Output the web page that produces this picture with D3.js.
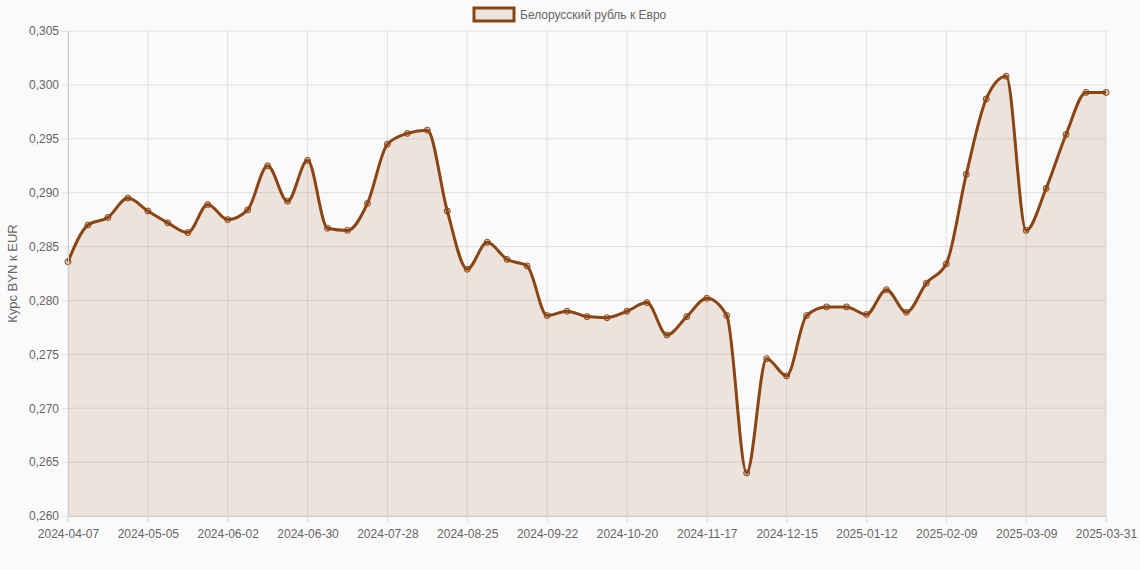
<!DOCTYPE html>
<html><head><meta charset="utf-8">
<script src="https://cdn.jsdelivr.net/npm/d3@7"></script>
<style>body{margin:0;background:#fafafa;font-family:"Liberation Sans",Arial,sans-serif}</style>
</head><body><svg id="c" width="1140" height="570"></svg>
<script>
const start = new Date(Date.UTC(2024,3,7));
const dates = [];
for (let i=0;i<52;i++){const d=new Date(start.getTime()+i*7*864e5);dates.push(d.toISOString().slice(0,10));}
dates.push("2025-03-31");
const values = [0.2836,0.2870,0.2877,0.2895,0.2883,0.2872,0.2863,0.2889,0.2875,0.2884,
0.2925,0.2892,0.2930,0.2867,0.2865,0.2890,0.2945,0.2955,0.2958,0.2883,
0.2829,0.2854,0.2838,0.2832,0.2786,0.2790,0.2785,0.2784,0.2790,0.2798,
0.2768,0.2785,0.2802,0.2786,0.2640,0.2746,0.2730,0.2786,0.2794,0.2794,
0.2787,0.2810,0.2789,0.2816,0.2834,0.2917,0.2987,0.3008,0.2865,0.2904,
0.2954,0.2993,0.2993];
const yTicks = [0.260,0.265,0.270,0.275,0.280,0.285,0.290,0.295,0.300,0.305];
const seriesName = "Белорусский рубль к Евро";
const yTitle = "Курс BYN к EUR";

const svg=d3.select("#c");
const L=68,R=1106,T=31,B=516;
const x=d3.scalePoint().domain(dates).range([L,R]);
const y=d3.scaleLinear().domain([0.26,0.305]).range([B,T]);
const col="#8B4513";
const fmt=v=>d3.format(".3f")(v).replace(".",",");
const shown=dates.filter((d,i)=>i%4===0||i===dates.length-1);

const g=svg.append("g");
g.selectAll(".hy").data(yTicks).join("line").attr("x1",L).attr("x2",R).attr("y1",d=>y(d)).attr("y2",d=>y(d)).attr("stroke","#e0e0e0");
g.selectAll(".vx").data(shown).join("line").attr("x1",d=>x(d)).attr("x2",d=>x(d)).attr("y1",T).attr("y2",B+6).attr("stroke","#e0e0e0");

svg.append("path").datum(values).attr("fill","rgba(139,69,19,0.12)")
 .attr("d",d3.area().x((d,i)=>x(dates[i])).y0(B).y1(d=>y(d)).curve(d3.curveMonotoneX));
svg.append("path").datum(values).attr("fill","none").attr("stroke",col).attr("stroke-width",3)
 .attr("d",d3.line().x((d,i)=>x(dates[i])).y(d=>y(d)).curve(d3.curveMonotoneX));
svg.selectAll(".pt").data(values).join("circle").attr("cx",(d,i)=>x(dates[i])).attr("cy",d=>y(d)).attr("r",3)
 .attr("fill","rgba(139,69,19,0.25)").attr("stroke",col).attr("stroke-width",1);

const ya=svg.append("g").attr("transform",`translate(${L},0)`).call(d3.axisLeft(y).tickValues(yTicks).tickFormat(fmt).tickSize(6));
const xa=svg.append("g").attr("transform",`translate(0,${B})`).call(d3.axisBottom(x).tickValues(shown).tickSize(6));
[ya,xa].forEach(a=>{a.select(".domain").attr("stroke","#ccc");a.selectAll("line").attr("stroke","#e0e0e0");
 a.selectAll("text").attr("fill","#666").attr("font-size",12).attr("font-family","Liberation Sans, Arial");});
xa.selectAll("text").attr("dy","1.1em");

svg.append("text").attr("transform",`translate(17,${(T+B)/2}) rotate(-90)`).attr("text-anchor","middle")
 .attr("fill","#666").attr("font-size",13).text(yTitle);
svg.append("rect").attr("x",474).attr("y",8).attr("width",40).attr("height",13).attr("fill","rgba(139,69,19,0.12)").attr("stroke",col).attr("stroke-width",3);
svg.append("text").attr("x",520).attr("y",19).attr("fill","#666").attr("font-size",12).text(seriesName);
</script></body></html>
